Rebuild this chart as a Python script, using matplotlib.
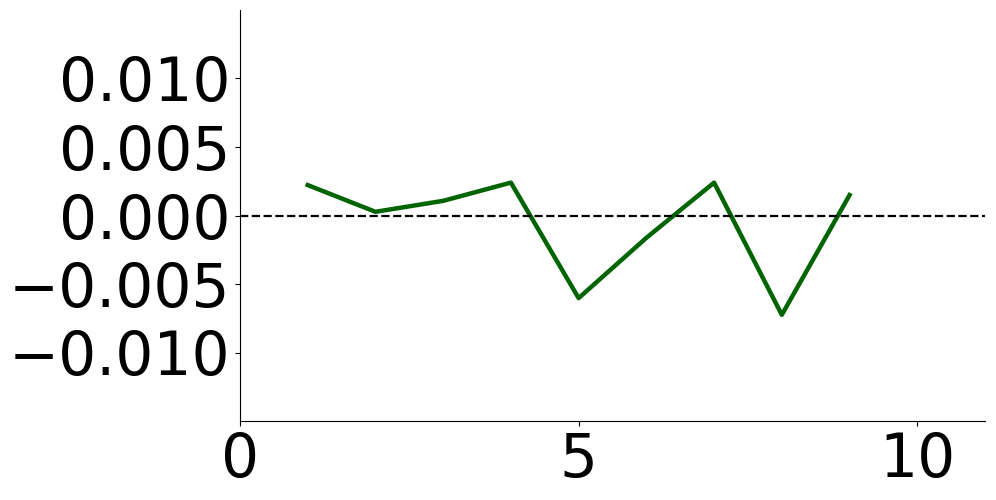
import numpy as np
import matplotlib
matplotlib.use("Agg")
import matplotlib.pyplot as plt

# values
steps = [1, 2, 3, 4, 5, 6, 7, 8, 9]
error = [0.00222, 0.00027, 0.00107, 0.0024, -0.00603, -0.00163, 0.0024, -0.00725, 0.00149]

fig = plt.figure(figsize=(9.96, 5.0), dpi=100)
ax = fig.add_axes([240/996, 1 - 421/500, (985 - 240)/996, (421 - 10)/500])

ax.plot(steps, error, color='darkgreen', linewidth=3.2)
ax.axhline(0, color='black', linestyle='--', linewidth=1.6)

ax.set_xlim(0, 11)
ax.set_ylim(-0.015, 0.015)
ax.set_xticks([0, 5, 10])
ax.set_yticks([-0.010, -0.005, 0.0, 0.005, 0.010])
ax.tick_params(labelsize=43)

ax.spines['top'].set_visible(False)
ax.spines['right'].set_visible(False)

fig.savefig("out.png", dpi=100)
